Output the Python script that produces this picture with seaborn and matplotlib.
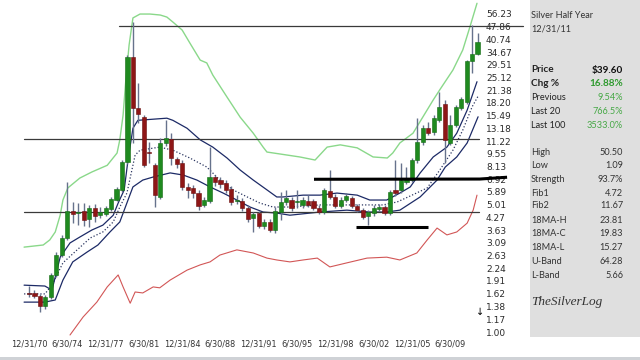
import numpy as np
import matplotlib
matplotlib.use("Agg")
import matplotlib.pyplot as plt
import seaborn as sns
from matplotlib.patches import Rectangle

# ---------------- data ----------------
period = np.arange(83)  # half-year periods, 0 = 12/31/70 ... 82 = 12/31/11
open_ = [1.63, 1.64, 1.58, 1.39, 1.56, 2.06, 2.65, 3.29, 4.63, 4.51,
         4.63, 4.18, 4.81, 4.39, 4.45, 4.74, 5.32, 6.05, 8.61, 32.6,
         17.1, 15.2, 9.77, 8.26, 5.53, 10.96, 11.5, 8.95, 8.50, 6.28,
         6.20, 5.81, 5.00, 5.26, 7.12, 6.85, 6.60, 6.12, 5.26, 5.26,
         4.81, 4.24, 4.51, 3.83, 4.03, 3.64, 4.57, 5.19, 5.32, 5.19,
         5.00, 5.26, 5.26, 4.81, 4.57, 5.97, 5.53, 4.94, 5.32, 5.46,
         4.94, 4.68, 4.35, 4.51, 4.74, 4.87, 4.51, 6.05, 6.05, 6.67,
         6.85, 8.83, 11.1, 13.2, 12.6, 14.6, 18.0, 10.96, 13.8, 17.1,
         18.4, 30.93, 33.88]
high = [1.78, 1.70, 1.62, 1.60, 2.11, 2.75, 3.42, 6.68, 5.19, 5.13,
        5.13, 5.00, 5.06, 4.87, 4.93, 5.53, 6.28, 8.83, 33.2, 50.5,
        23.4, 15.6, 11.1, 8.50, 11.65, 14.6, 12.4, 9.20, 8.83, 6.60,
        6.43, 6.05, 5.53, 10.4, 7.30, 7.12, 6.85, 6.35, 5.66, 5.46,
        5.00, 4.57, 4.62, 4.18, 4.18, 4.87, 5.89, 6.05, 5.53, 6.05,
        5.53, 5.66, 5.39, 5.00, 6.20, 7.78, 5.74, 5.53, 5.81, 5.60,
        5.06, 4.81, 4.68, 5.00, 5.06, 5.00, 6.05, 8.83, 8.50, 8.10,
        9.05, 15.0, 13.8, 14.3, 15.6, 20.9, 18.9, 15.6, 17.7, 19.5,
        31.4, 48.8, 44.1]
low = [1.56, 1.54, 1.29, 1.34, 1.52, 2.01, 2.58, 3.21, 3.97, 3.87,
       3.83, 3.78, 4.03, 4.24, 4.34, 4.63, 5.26, 5.89, 8.40, 10.96,
       14.1, 8.10, 8.50, 4.87, 5.39, 10.5, 8.26, 8.00, 6.05, 5.46,
       5.46, 4.68, 4.87, 5.13, 6.35, 6.20, 5.81, 5.00, 5.06, 4.62,
       4.03, 3.55, 3.73, 3.69, 3.55, 3.50, 4.13, 5.00, 4.62, 4.81,
       4.81, 4.87, 4.68, 4.45, 4.45, 5.39, 4.81, 4.81, 5.19, 4.81,
       4.57, 4.18, 3.87, 4.34, 4.62, 4.39, 4.39, 5.60, 5.81, 6.50,
       6.67, 8.50, 10.7, 12.1, 12.1, 14.3, 8.50, 10.7, 13.5, 16.6,
       18.0, 26.6, 33.4]
close = [1.61, 1.58, 1.39, 1.56, 2.06, 2.65, 3.29, 4.63, 4.45, 4.57,
         4.13, 4.81, 4.34, 4.57, 4.81, 5.39, 6.12, 8.61, 32.6, 17.1,
         15.8, 8.26, 9.64, 5.66, 10.96, 11.65, 9.05, 8.40, 6.28, 6.05,
         5.81, 4.94, 5.32, 7.12, 6.67, 6.50, 6.05, 5.19, 5.32, 4.81,
         4.18, 4.45, 3.83, 4.03, 3.64, 4.63, 5.19, 5.46, 4.81, 5.26,
         5.32, 5.00, 4.81, 4.57, 6.05, 5.53, 4.94, 5.32, 5.60, 4.94,
         4.68, 4.29, 4.57, 4.81, 4.87, 4.51, 5.89, 5.81, 6.85, 7.03,
         8.83, 11.1, 13.2, 12.4, 15.0, 17.3, 11.4, 13.8, 17.3, 19.1,
         30.93, 33.88, 39.60]

# upper band (green)
uband_x = [-0.9, 2.6, 3.8, 4.8, 5.7, 6.2, 7.1, 9.3, 11.5, 14.3, 16.1, 16.6,
           17.2, 17.7, 18.3, 19.0, 20.3, 22.1, 24.0, 25.2, 26.3, 28.0, 29.4,
           31.3, 32.5, 33.6, 36.2, 38.6, 41.0, 42.8, 43.5, 45.9, 49.5, 52.3,
           54.5, 56.9, 60.0, 62.9, 65.5, 66.5, 67.8, 70.2, 73.9, 75.1, 77.5,
           79.3, 80.6, 81.9]
uband_v = [2.93, 3.01, 3.21, 3.55, 4.39, 5.32, 6.20, 7.03, 7.59, 8.26, 9.65,
           11.4, 15.6, 24.3, 37.9, 53.4, 56.1, 56.1, 55.4, 54.0, 50.7, 45.8,
           38.9, 31.3, 30.2, 25.9, 19.6, 15.2, 12.4, 10.4, 9.77, 9.53, 9.18,
           8.83, 10.4, 10.7, 10.3, 9.18, 9.06, 9.65, 10.96, 12.4, 18.9, 21.5,
           27.6, 35.6, 47.6, 64.28]
# lower band (red)
lband_x = [7.5, 9.9, 12.4, 14.3, 16.3, 17.2, 18.5, 19.4, 20.8, 22.7, 23.9,
           25.8, 28.9, 31.3, 33.1, 34.9, 38.0, 41.0, 43.5, 45.3, 47.7, 50.1,
           52.7, 55.0, 58.1, 61.8, 65.4, 67.8, 70.9, 72.8, 74.6, 76.4, 78.2,
           80.1, 81.2, 81.9]
lband_v = [0.963, 1.21, 1.46, 1.77, 2.06, 1.77, 1.44, 1.66, 1.64, 1.77, 1.75,
           1.93, 2.19, 2.34, 2.43, 2.65, 2.83, 2.72, 2.55, 2.49, 2.43, 2.49,
           2.55, 2.28, 2.40, 2.55, 2.58, 2.49, 2.72, 3.21, 3.73, 3.42, 3.55,
           3.97, 4.68, 5.66]
# 18-period moving averages of high / close / low
ma_h_x = [-0.9, 2.9, 4.2, 5.7, 7.5, 9.3, 11.5, 13.5, 15.4, 16.3, 17.4, 18.1,
          19.0, 19.9, 25.2, 26.3, 28.9, 31.3, 33.6, 36.2, 38.6, 41.0, 43.5,
          45.3, 46.4, 50.1, 53.2, 56.3, 60.0, 62.3, 65.4, 67.8, 69.7, 71.5,
          73.9, 76.4, 78.2, 80.1, 81.9]
ma_h_v = [1.81, 1.79, 1.70, 2.58, 3.09, 3.33, 3.64, 3.87, 4.39, 5.12, 6.04,
          8.83, 13.2, 14.6, 15.0, 14.6, 13.2, 11.4, 10.4, 9.06, 7.78, 6.85,
          6.05, 5.53, 5.53, 5.66, 5.66, 5.81, 5.66, 5.32, 5.32, 5.81, 6.28,
          7.49, 9.18, 10.4, 12.4, 16.6, 23.81]
ma_c_x = [-0.9, 2.9, 4.2, 6.2, 8.8, 11.2, 13.5, 15.4, 16.6, 17.9, 19.4, 20.3,
          23.9, 26.3, 29.4, 32.5, 34.9, 37.3, 39.9, 42.2, 44.6, 47.7, 53.2,
          59.2, 64.7, 67.3, 69.7, 72.8, 75.1, 77.5, 79.3, 81.0, 82.1]
ma_c_v = [1.62, 1.62, 1.81, 2.40, 2.83, 3.29, 3.55, 4.03, 4.87, 5.81, 9.4,
          10.0, 10.4, 10.0, 9.06, 8.08, 6.85, 6.05, 5.53, 5.12, 4.87, 4.87,
          5.00, 5.00, 5.00, 5.19, 5.60, 6.20, 7.78, 10.0, 12.9, 17.3, 19.83]
ma_l_x = [-0.9, 2.9, 4.8, 6.2, 8.0, 10.6, 12.6, 14.8, 16.6, 18.1, 19.0, 20.8,
          22.7, 25.8, 28.2, 30.7, 33.1, 35.5, 38.0, 40.4, 42.8, 45.3, 47.7,
          53.2, 58.1, 62.3, 65.4, 67.8, 71.5, 74.6, 76.1, 78.2, 80.1, 82.1]
ma_l_v = [1.46, 1.46, 1.50, 1.93, 2.43, 2.75, 3.01, 3.55, 4.03, 5.32, 6.28,
          6.85, 7.12, 7.50, 7.30, 6.85, 6.28, 5.81, 5.32, 4.87, 4.57, 4.51,
          4.39, 4.57, 4.68, 4.57, 4.57, 4.68, 5.53, 6.85, 8.08, 9.18, 10.96,
          15.27]

# horizontal reference lines: value, start period, end period
top_line = (48.5, 16.45, 90.3)
fib2_line = (11.5, -0.9, 82.3)
fib1_line = (4.6, -0.9, 82.3)
support_hi_x = [52.1, 82.4, 87.4]
support_hi_v = [6.92, 6.94, 7.10]
support_lo = (3.80, 59.8, 72.9)

ytick_labels = ['56.23', '47.86', '40.74', '34.67', '29.51', '25.12', '21.38',
                '18.20', '15.49', '13.18', '11.22', '9.55', '8.13', '6.92',
                '5.89', '5.01', '4.27', '3.63', '3.09', '2.63', '2.24', '1.91',
                '1.62', '1.38', '1.17', '1.00']
xtick_periods = [0, 7, 14, 21, 28, 35, 42, 49, 56, 63, 70, 77]
xtick_labels = ['12/31/70', '6/30/74', '12/31/77', '6/30/81', '12/31/84',
                '6/30/88', '12/31/91', '6/30/95', '12/31/98', '6/30/02',
                '12/31/05', '6/30/09']

panel_title = ['Silver Half Year', '12/31/11']
stat_labels = ['Price', 'Chg %', 'Previous', 'Last 20', 'Last 100']
stat_values = ['$39.60', '16.88%', '9.54%', '766.5%', '3533.0%']
info_labels = ['High', 'Low', 'Strength', 'Fib1', 'Fib2', '18MA-H', '18MA-C',
               '18MA-L', 'U-Band', 'L-Band']
info_values = ['50.50', '1.09', '93.7%', '4.72', '11.67', '23.81', '19.83',
               '15.27', '64.28', '5.66']

# ---------------- drawing ----------------
sns.set_theme(style='white')
plt.rcParams['font.family'] = ['DejaVu Sans']

W, H = 640, 360
X0, DX = 29.0, 5.47


def p2i(x):
    return (x - X0) / DX


def p2v(y):
    return 10 ** ((332.0 - y) / 181.8)


def fx(x):
    return x / W


def fy(y):
    return 1 - y / H


fig = plt.figure(figsize=(6.4, 3.6), dpi=100)
fig.patch.set_facecolor('white')

# right info panel
fig.add_artist(Rectangle((fx(530), fy(337)), fx(640) - fx(530), fy(0) - fy(337),
                         transform=fig.transFigure, facecolor='#dfdfdf',
                         edgecolor='none', zorder=0))
fig.add_artist(Rectangle((0, 0), 1, fy(357), transform=fig.transFigure,
                         facecolor='#cfd2d6', edgecolor='none', zorder=0))

ax = fig.add_axes([0, fy(337), fx(483), fy(0) - fy(337)])
ax.patch.set_alpha(0)
ax.set_yscale('log')
ax.set_xlim(p2i(0), p2i(483))
ax.set_ylim(p2v(337), p2v(0))
for s in ax.spines.values():
    s.set_visible(False)

# bands
sns.lineplot(x=uband_x, y=uband_v, ax=ax, color='#8ad88a', lw=1.0,
             sort=False, estimator=None, zorder=2)
sns.lineplot(x=lband_x, y=lband_v, ax=ax, color='#d25656', lw=0.8,
             sort=False, estimator=None, zorder=2)
sns.lineplot(x=ma_h_x, y=ma_h_v, ax=ax, color='#1c2a66', lw=0.9,
             sort=False, estimator=None, zorder=2)
sns.lineplot(x=ma_l_x, y=ma_l_v, ax=ax, color='#1c2a66', lw=0.9,
             sort=False, estimator=None, zorder=2)
sns.lineplot(x=ma_c_x, y=ma_c_v, ax=ax, color='#2a3560', lw=0.9,
             linestyle=(0, (1, 1.6)), sort=False, estimator=None, zorder=2)

# horizontal lines
for v, a, b in [top_line, fib2_line, fib1_line]:
    ax.plot([a, b], [v, v], color='#3a3a3a', lw=0.9, clip_on=False, zorder=3)
ax.plot(support_hi_x, support_hi_v, color='black', lw=2.2, clip_on=False,
        solid_capstyle='butt', zorder=5)
ax.plot([support_lo[1], support_lo[2]], [support_lo[0], support_lo[0]],
        color='black', lw=2.2, solid_capstyle='butt', zorder=5)

# candles
o = np.array(open_)
c = np.array(close)
up = c >= o
bot = np.minimum(o, c)
top = np.maximum(o, c)
face = np.where(up, '#1f8a1f', '#8e1616')
edge = np.where(up, '#136a13', '#6a0e0e')
ax.vlines(period, low, high, color='#66728c', lw=1.0, zorder=3)
ax.bar(period, top - bot, bottom=bot, width=0.76, color=face,
       edgecolor=edge, linewidth=0.4, zorder=4)

# ticks
ax.yaxis.tick_right()
ax.set_yticks([float(s) for s in ytick_labels], ytick_labels)
ax.minorticks_off()
ax.tick_params(axis='y', length=0, pad=2.2, labelsize=6.5, labelcolor='#2b2b2b')
ax.set_xticks(xtick_periods, xtick_labels)
ax.tick_params(axis='x', length=0, pad=2.0, labelsize=5.9, labelcolor='#333333')
ax.set_xlabel('')
ax.set_ylabel('')
ax.grid(False)

# down arrow
fig.text(fx(480), fy(312), '\u2193', fontsize=7, color='black',
         ha='center', va='center')

# panel text
PF = ['Lato', 'DejaVu Sans']
LX, VX = 531, 623
fig.text(fx(LX), fy(15), panel_title[0], family=PF, fontsize=6.6,
         color='#333333', va='center')
fig.text(fx(LX), fy(29), panel_title[1], family=PF, fontsize=6.6,
         color='#333333', va='center')
stat_y = [70, 84, 98, 111, 125]
for k, (lab, val, yy) in enumerate(zip(stat_labels, stat_values, stat_y)):
    bold = k < 2
    fig.text(fx(LX), fy(yy), lab, family=PF, fontsize=7.2 if bold else 6.6,
             fontweight='bold' if bold else 'normal', color='#222222',
             va='center')
    vcol = '#111111' if k == 0 else ('#2e9a2e' if k == 1 else '#45a845')
    fig.text(fx(VX), fy(yy), val, family=PF, fontsize=7.2 if bold else 6.6,
             fontweight='bold' if bold else 'normal', color=vcol,
             va='center', ha='right')
info_y = [152, 166, 179, 193, 206, 220, 233, 247, 261, 275]
for lab, val, yy in zip(info_labels, info_values, info_y):
    fig.text(fx(LX), fy(yy), lab, family=PF, fontsize=6.6, color='#333333',
             va='center')
    fig.text(fx(VX), fy(yy), val, family=PF, fontsize=6.6, color='#333333',
             va='center', ha='right')
fig.text(fx(LX), fy(302), 'TheSilverLog', family=['Liberation Serif'],
         fontstyle='italic', fontsize=9.5, color='#333333', va='center')

fig.savefig('out.png', dpi=100, facecolor=fig.get_facecolor())
